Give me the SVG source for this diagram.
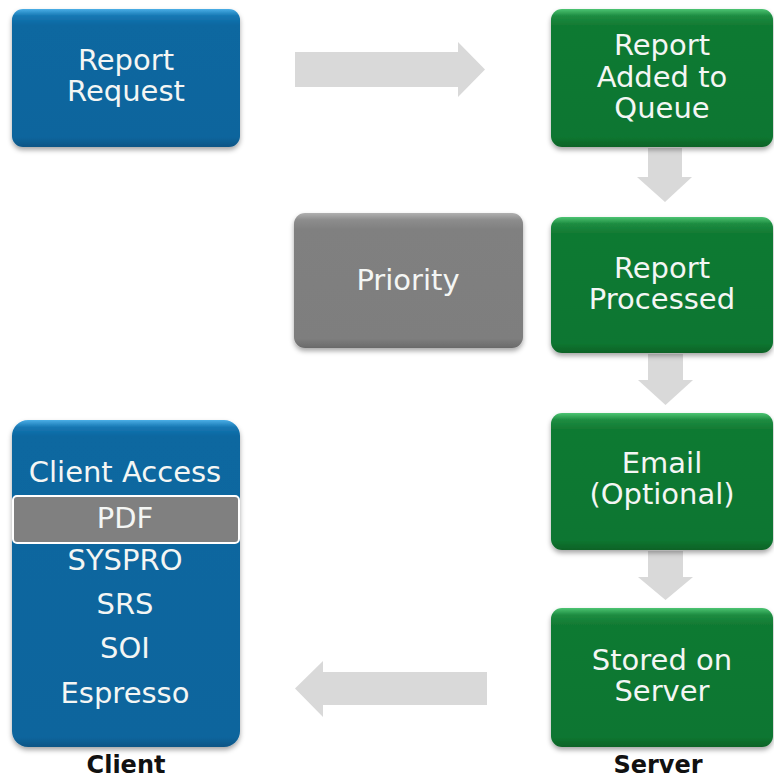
<svg xmlns="http://www.w3.org/2000/svg" width="774" height="778" viewBox="0 0 774 778">
<defs>
<linearGradient id="gBlue" x1="0" y1="0" x2="0" y2="1">
<stop offset="0" stop-color="#4aaee6"/><stop offset="0.05" stop-color="#1577b3"/><stop offset="0.12" stop-color="#0d67a0"/><stop offset="0.93" stop-color="#0c659d"/><stop offset="1" stop-color="#0a5585"/>
</linearGradient>
<linearGradient id="gBlueTall" x1="0" y1="0" x2="0" y2="1">
<stop offset="0" stop-color="#4aaee6"/><stop offset="0.022" stop-color="#1577b3"/><stop offset="0.05" stop-color="#0d67a0"/><stop offset="0.97" stop-color="#0c659d"/><stop offset="1" stop-color="#0a5585"/>
</linearGradient>
<linearGradient id="gGreen" x1="0" y1="0" x2="0" y2="1">
<stop offset="0" stop-color="#4cc472"/><stop offset="0.05" stop-color="#1d8c41"/><stop offset="0.12" stop-color="#117a33"/><stop offset="0.93" stop-color="#0f7630"/><stop offset="1" stop-color="#0b6227"/>
</linearGradient>
<linearGradient id="gGray" x1="0" y1="0" x2="0" y2="1">
<stop offset="0" stop-color="#b0b0b0"/><stop offset="0.05" stop-color="#8d8d8d"/><stop offset="0.12" stop-color="#808080"/><stop offset="0.93" stop-color="#7e7e7e"/><stop offset="1" stop-color="#6a6a6a"/>
</linearGradient>
<filter id="sh" x="-10%" y="-10%" width="120%" height="125%">
<feDropShadow dx="0" dy="3" stdDeviation="2.5" flood-color="#000" flood-opacity="0.35"/>
</filter>
</defs>
<style>
.t{font-family:"DejaVu Sans","Verdana",sans-serif;font-size:29px;fill:#f4f6f4;text-anchor:middle}
.lb{font-family:"DejaVu Sans","Verdana",sans-serif;font-size:24px;font-weight:bold;fill:#111;text-anchor:middle}
.arr{fill:#d9d9d9}
</style>
<rect width="774" height="778" fill="#fff"/>
<g id="connectors">
<polygon class="arr" points="295,52 458,52 458,42 485,69.5 458,97 458,87 295,87"/>
<polygon class="arr" points="648,148 682,148 682,177 692,177 665,202 637,177 648,177"/>
<polygon class="arr" points="648,354 683,354 683,380 693,380 665.5,405 638,380 648,380"/>
<polygon class="arr" points="648,551 683,551 683,577 693,577 665.5,600 638,577 648,577"/>
<polygon class="arr" points="487,672 487,705 323,705 323,717 295,688.5 323,661 323,672"/>
</g>
<g id="report-request">
<rect x="12" y="9" width="228" height="138" rx="11" fill="url(#gBlue)" filter="url(#sh)"/>
<text class="t" x="126" y="70">Report</text>
<text class="t" x="126" y="101">Request</text>
</g>
<g id="report-added">
<rect x="551" y="9" width="222" height="138" rx="11" fill="url(#gGreen)" filter="url(#sh)"/>
<text class="t" x="662" y="55">Report</text>
<text class="t" x="662" y="87">Added to</text>
<text class="t" x="662" y="118">Queue</text>
</g>
<g id="priority">
<rect x="294" y="213" width="229" height="135" rx="11" fill="url(#gGray)" filter="url(#sh)"/>
<text class="t" x="408" y="290">Priority</text>
</g>
<g id="report-processed">
<rect x="551" y="217" width="222" height="136" rx="11" fill="url(#gGreen)" filter="url(#sh)"/>
<text class="t" x="662" y="278">Report</text>
<text class="t" x="662" y="309">Processed</text>
</g>
<g id="email">
<rect x="551" y="413" width="222" height="137" rx="11" fill="url(#gGreen)" filter="url(#sh)"/>
<text class="t" x="662" y="473">Email</text>
<text class="t" x="662" y="504">(Optional)</text>
</g>
<g id="stored">
<rect x="551" y="608" width="222" height="139" rx="11" fill="url(#gGreen)" filter="url(#sh)"/>
<text class="t" x="662" y="670">Stored on</text>
<text class="t" x="662" y="701">Server</text>
</g>
<g id="client-access">
<rect x="12" y="420" width="228" height="327" rx="16" fill="url(#gBlueTall)" filter="url(#sh)"/>
<text class="t" x="125" y="482">Client Access</text>
<rect x="13" y="496" width="226" height="47" rx="4" fill="#808080" stroke="#fff" stroke-width="2"/>
<text class="t" x="125" y="528">PDF</text>
<text class="t" x="125" y="570">SYSPRO</text>
<text class="t" x="125" y="614">SRS</text>
<text class="t" x="125" y="658">SOI</text>
<text class="t" x="125" y="703">Espresso</text>
</g>
<g id="labels">
<text class="lb" x="126" y="773">Client</text>
<text class="lb" x="658" y="773">Server</text>
</g>
</svg>
